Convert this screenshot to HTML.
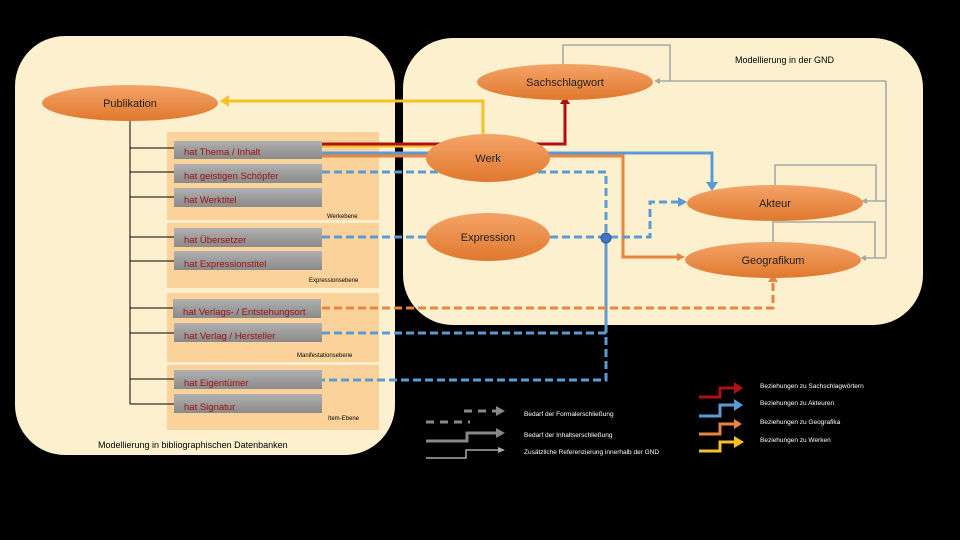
<!DOCTYPE html>
<html><head><meta charset="utf-8"><style>
body{margin:0;background:#000;}
svg{display:block;font-family:"Liberation Sans",sans-serif;}
</style></head><body>
<svg width="960" height="540" viewBox="0 0 960 540" xmlns="http://www.w3.org/2000/svg">
<defs>
<linearGradient id="eg" x1="0" y1="0" x2="0" y2="1"><stop offset="0" stop-color="#f4a468"/><stop offset="1" stop-color="#e0782e"/></linearGradient>
<linearGradient id="gg" x1="0" y1="0" x2="0" y2="1"><stop offset="0" stop-color="#b0b0b0"/><stop offset="1" stop-color="#8a8a8a"/></linearGradient>
<marker id="aY" markerWidth="6" markerHeight="6" refX="4" refY="3" orient="auto" markerUnits="userSpaceOnUse" viewBox="0 0 6 6"><path d="M0,0L6,3L0,6z" fill="#f5c02a"/></marker>
</defs>
<rect x="15" y="36" width="380" height="419" rx="50" fill="#fdf0cf"/>
<rect x="403" y="38" width="520" height="287" rx="50" fill="#fdf0cf"/>
<g fill="#fbd39a">
<rect x="167" y="132" width="212" height="88"/>
<rect x="167" y="223" width="212" height="65"/>
<rect x="167" y="293" width="212" height="69"/>
<rect x="167" y="365" width="212" height="65"/>
</g>
<g font-size="6" fill="#000">
<text x="327" y="218">Werkebene</text>
<text x="309" y="282">Expressionsebene</text>
<text x="297" y="357">Manifestationsebene</text>
<text x="328" y="420">Item-Ebene</text>
</g>
<text x="98" y="448" font-size="9" fill="#000">Modellierung in bibliographischen Datenbanken</text>
<text x="735" y="63" font-size="9" fill="#000">Modellierung in der GND</text>
<!-- tree -->
<g stroke="#000" stroke-width="1" fill="none">
<path d="M130 120V404"/>
<path d="M130 148H174M130 172H174M130 197H174M130 237H174M130 261H174M130 308H174M130 333H174M130 379H174M130 404H174"/>
</g>
<!-- gray loops -->
<g stroke="#a8a8a8" stroke-width="1.6" fill="none">
<path d="M563 64V45H670V81"/>
<path d="M886 81V258"/>
<path d="M886 81H657"/>
<path d="M886 201H864"/>
<path d="M886 258H863"/>
<path d="M775 186V165H876V201"/>
<path d="M773 243V222H875V258"/>
</g>
<g fill="#a8a8a8"><path d="M654 81l6-3v6z"/><path d="M861 201l6-3v6z"/><path d="M860 258l6-3v6z"/></g>
<!-- colored lines -->
<path d="M322 146H483V101H226" stroke="#f5c02a" stroke-width="3" fill="none"/>
<path d="M220 101l9-6v12z" fill="#f5c02a"/>
<path d="M322 144H565V103" stroke="#b01010" stroke-width="3" fill="none"/>
<path d="M565 96l-5 8h10z" fill="#b01010"/>
<path d="M322 156H623V257H678" stroke="#e8843e" stroke-width="3" fill="none"/>
<path d="M685 257l-8-4v8z" fill="#e8843e"/>
<path d="M322 153H712V183" stroke="#5b9bd5" stroke-width="3" fill="none"/>
<path d="M712 191l-6-9h12z" fill="#5b9bd5"/>
<g stroke="#5b9bd5" stroke-width="3" fill="none" stroke-dasharray="8,4">
<path d="M322 172H606V238"/>
<path d="M322 237H650V202H678"/>
<path d="M322 333H606"/>
<path d="M606 325V380H322"/>
</g>
<path d="M606 238V325" stroke="#5b9bd5" stroke-width="3"/>
<path d="M687 202l-9-5v10z" fill="#5b9bd5"/>
<path d="M322 308H773V280" stroke="#e8843e" stroke-width="3" fill="none" stroke-dasharray="8,4"/>
<path d="M773 274l-5 8h10z" fill="#e8843e"/>
<!-- ellipses -->
<g fill="url(#eg)">
<ellipse cx="130" cy="103" rx="88" ry="18"/>
<ellipse cx="565" cy="82" rx="88" ry="18"/>
<ellipse cx="488" cy="158" rx="62" ry="24"/>
<ellipse cx="488" cy="237" rx="62" ry="24"/>
<ellipse cx="775" cy="203" rx="88" ry="18"/>
<ellipse cx="773" cy="260" rx="88" ry="18"/>
</g>
<circle cx="606" cy="238" r="5" fill="#4472c4" stroke="#2f5597"/>
<g font-size="11" fill="#222" text-anchor="middle">
<text x="130" y="107">Publikation</text>
<text x="565" y="86">Sachschlagwort</text>
<text x="488" y="162">Werk</text>
<text x="488" y="241">Expression</text>
<text x="775" y="207">Akteur</text>
<text x="773" y="264">Geografikum</text>
</g>
<!-- gray boxes -->
<g fill="url(#gg)">
<rect x="174" y="141" width="148" height="18"/>
<rect x="174" y="164" width="148" height="19"/>
<rect x="174" y="188" width="148" height="19"/>
<rect x="174" y="228" width="148" height="19"/>
<rect x="174" y="251" width="148" height="19"/>
<rect x="173" y="299" width="148" height="19"/>
<rect x="174" y="323" width="148" height="19"/>
<rect x="174" y="370" width="148" height="19"/>
<rect x="174" y="394" width="148" height="19"/>
</g>
<g font-size="9.5" fill="#a01010">
<text x="184" y="155">hat Thema / Inhalt</text>
<text x="184" y="179">hat geistigen Schöpfer</text>
<text x="184" y="203">hat Werktitel</text>
<text x="184" y="243">hat Übersetzer</text>
<text x="184" y="267">hat Expressionstitel</text>
<text x="183" y="315">hat Verlags- / Entstehungsort</text>
<text x="184" y="339">hat Verlag / Hersteller</text>
<text x="184" y="386">hat Eigentümer</text>
<text x="184" y="410">hat Signatur</text>
</g>
<!-- legend -->
<g fill="none">
<path d="M426 422H470" stroke="#888" stroke-width="3" stroke-dasharray="8,6"/>
<path d="M464 411H500" stroke="#888" stroke-width="3" stroke-dasharray="8,6"/>
<path d="M426 441H467V433H500" stroke="#888" stroke-width="3"/>
<path d="M426 458H466V450H500" stroke="#aaa" stroke-width="1.5"/>
<path d="M699 397H720V388H736" stroke="#b01010" stroke-width="3"/>
<path d="M699 416H720V405H736" stroke="#5b9bd5" stroke-width="3"/>
<path d="M699 434H720V424H736" stroke="#e8843e" stroke-width="3"/>
<path d="M699 451H720V442H736" stroke="#f5c02a" stroke-width="3"/>
</g>
<g>
<path d="M505 411l-9-5v10z" fill="#888"/>
<path d="M505 433l-9-5v10z" fill="#888"/>
<path d="M505 450l-7-3v6z" fill="#aaa"/>
<path d="M743 388l-9-6v12z" fill="#b01010"/>
<path d="M743 405l-9-6v12z" fill="#5b9bd5"/>
<path d="M742 424l-8-5v10z" fill="#e8843e"/>
<path d="M744 442l-10-6v12z" fill="#f5c02a"/>
</g>
<g font-size="6.5" fill="#fff">
<text x="524" y="416">Bedarf der Formalerschließung</text>
<text x="524" y="437">Bedarf der Inhaltserschließung</text>
<text x="524" y="454">Zusätzliche Referenzierung innerhalb der GND</text>
<text x="760" y="388">Beziehungen zu Sachschlagwörtern</text>
<text x="760" y="405">Beziehungen zu Akteuren</text>
<text x="760" y="424">Beziehungen zu Geografika</text>
<text x="760" y="442">Beziehungen zu Werken</text>
</g>
</svg>
</body></html>
